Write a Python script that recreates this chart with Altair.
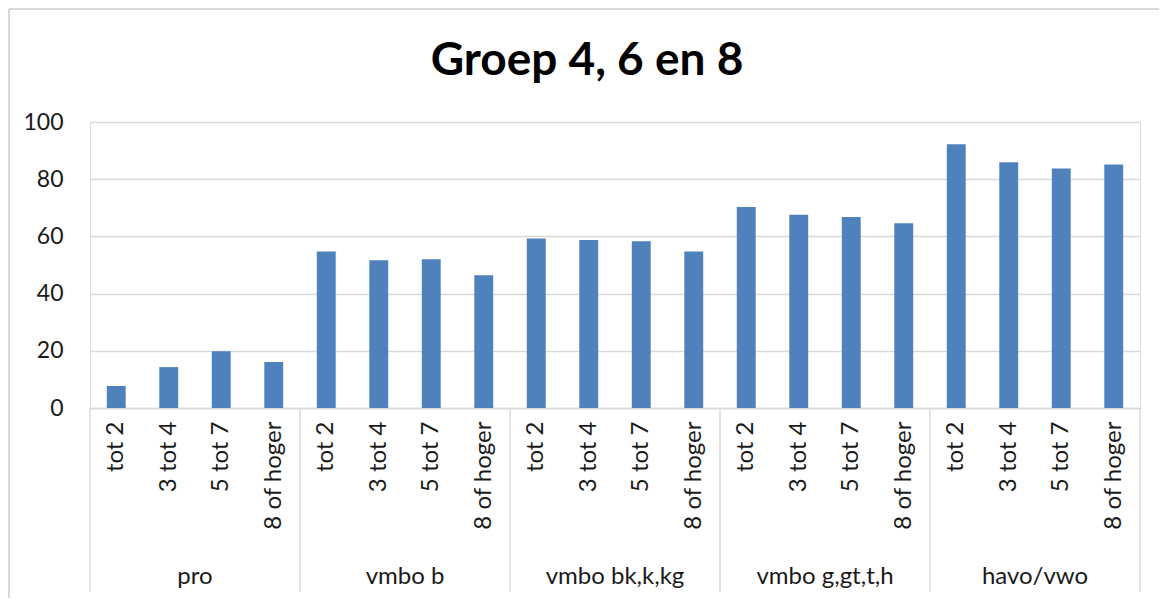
import altair as alt
import pandas as pd

# ---- data ----
groups = ["pro", "vmbo b", "vmbo bk,k,kg", "vmbo g,gt,t,h", "havo/vwo"]
subcats = ["tot 2", "3 tot 4", "5 tot 7", "8 of hoger"]
values_pro = [7.7, 14.3, 19.8, 16.1]
values_vmbo_b = [54.7, 51.7, 52.0, 46.4]
values_vmbo_bk = [59.3, 58.7, 58.3, 54.7]
values_vmbo_g = [70.3, 67.6, 66.8, 64.6]
values_havo = [92.2, 85.9, 83.7, 85.1]
title_text = "Groep 4, 6 en 8"
y_ticks = [0, 20, 40, 60, 80, 100]

series = [values_pro, values_vmbo_b, values_vmbo_bk, values_vmbo_g, values_havo]

rows = []
for g, vals in zip(groups, series):
    for s, v in zip(subcats, vals):
        rows.append({"group": g, "sub": s, "key": f"{g}|{s}", "value": v})
df = pd.DataFrame(rows)
keys = list(df["key"])

# group boundaries / centres in category units
n = len(subcats)
gdf = pd.DataFrame({
    "group": groups,
    "center": [i * n + n / 2 for i in range(len(groups))],
})
bdf = pd.DataFrame({"pos": [i * n for i in range(len(groups) + 1)]})

W, H = 1050, 286
FONT = "Lato"
GRAY = "#d9d9d9"
TXT = "#1a1a1a"

bars = alt.Chart(df).mark_bar(color="#4f81bd").encode(
    x=alt.X(
        "key:N",
        sort=keys,
        scale=alt.Scale(paddingInner=0.64, paddingOuter=0.32),
        axis=alt.Axis(
            title=None,
            labelExpr="split(datum.label, '|')[1]",
            labelAngle=-90,
            labelFontSize=24,
            labelPadding=13,
            labelColor=TXT,
            labelFont=FONT,
            ticks=False,
            domainColor=GRAY,
            domainWidth=1.5,
            grid=False,
        ),
    ),
    y=alt.Y(
        "value:Q",
        scale=alt.Scale(domain=[0, 100]),
        axis=alt.Axis(
            values=y_ticks,
            title=None,
            domain=False,
            ticks=False,
            labelPadding=27,
            labelFontSize=23,
            labelColor=TXT,
            labelFont=FONT,
            gridColor=GRAY,
            gridWidth=1.5,
        ),
    ),
)

xq = alt.Scale(domain=[0, len(groups) * n])

seps = alt.Chart(bdf).mark_rule(color=GRAY, strokeWidth=1.5).encode(
    x=alt.X("pos:Q", scale=xq, axis=None),
    y=alt.value(H),
    y2=alt.value(H + 184),
)

glabels = alt.Chart(gdf).mark_text(
    fontSize=24, font=FONT, color=TXT, baseline="middle", align="center"
).encode(
    x=alt.X("center:Q", scale=xq, axis=None),
    y=alt.value(H + 169),
    text="group:N",
)

tdf = pd.DataFrame({"t": [title_text]})
title = alt.Chart(tdf).mark_text(
    fontSize=46, font=FONT, fontWeight="bold", color="#000000",
    baseline="middle", align="center",
).encode(x=alt.value(497), y=alt.value(-61), text="t:N")

border_left = alt.Chart(tdf).mark_rule(color=GRAY, strokeWidth=2).encode(
    x=alt.value(-81), y=alt.value(-113), y2=alt.value(H + 200)
)
border_top = alt.Chart(tdf).mark_rule(color=GRAY, strokeWidth=2).encode(
    x=alt.value(-81), x2=alt.value(W + 80), y=alt.value(-113)
)

chart = (
    alt.layer(bars, alt.layer(seps, glabels, title, border_left, border_top))
    .resolve_scale(x="independent")
    .properties(
        width=W,
        height=H,
        autosize=alt.AutoSizeParams(type="none"),
        padding={"left": 82, "top": 114, "right": 19, "bottom": 190},
    )
    .configure_view(stroke=None)
    .configure(font=FONT, background="white")
)

chart.save("out.html", embed_options={"renderer": "svg", "actions": False})
